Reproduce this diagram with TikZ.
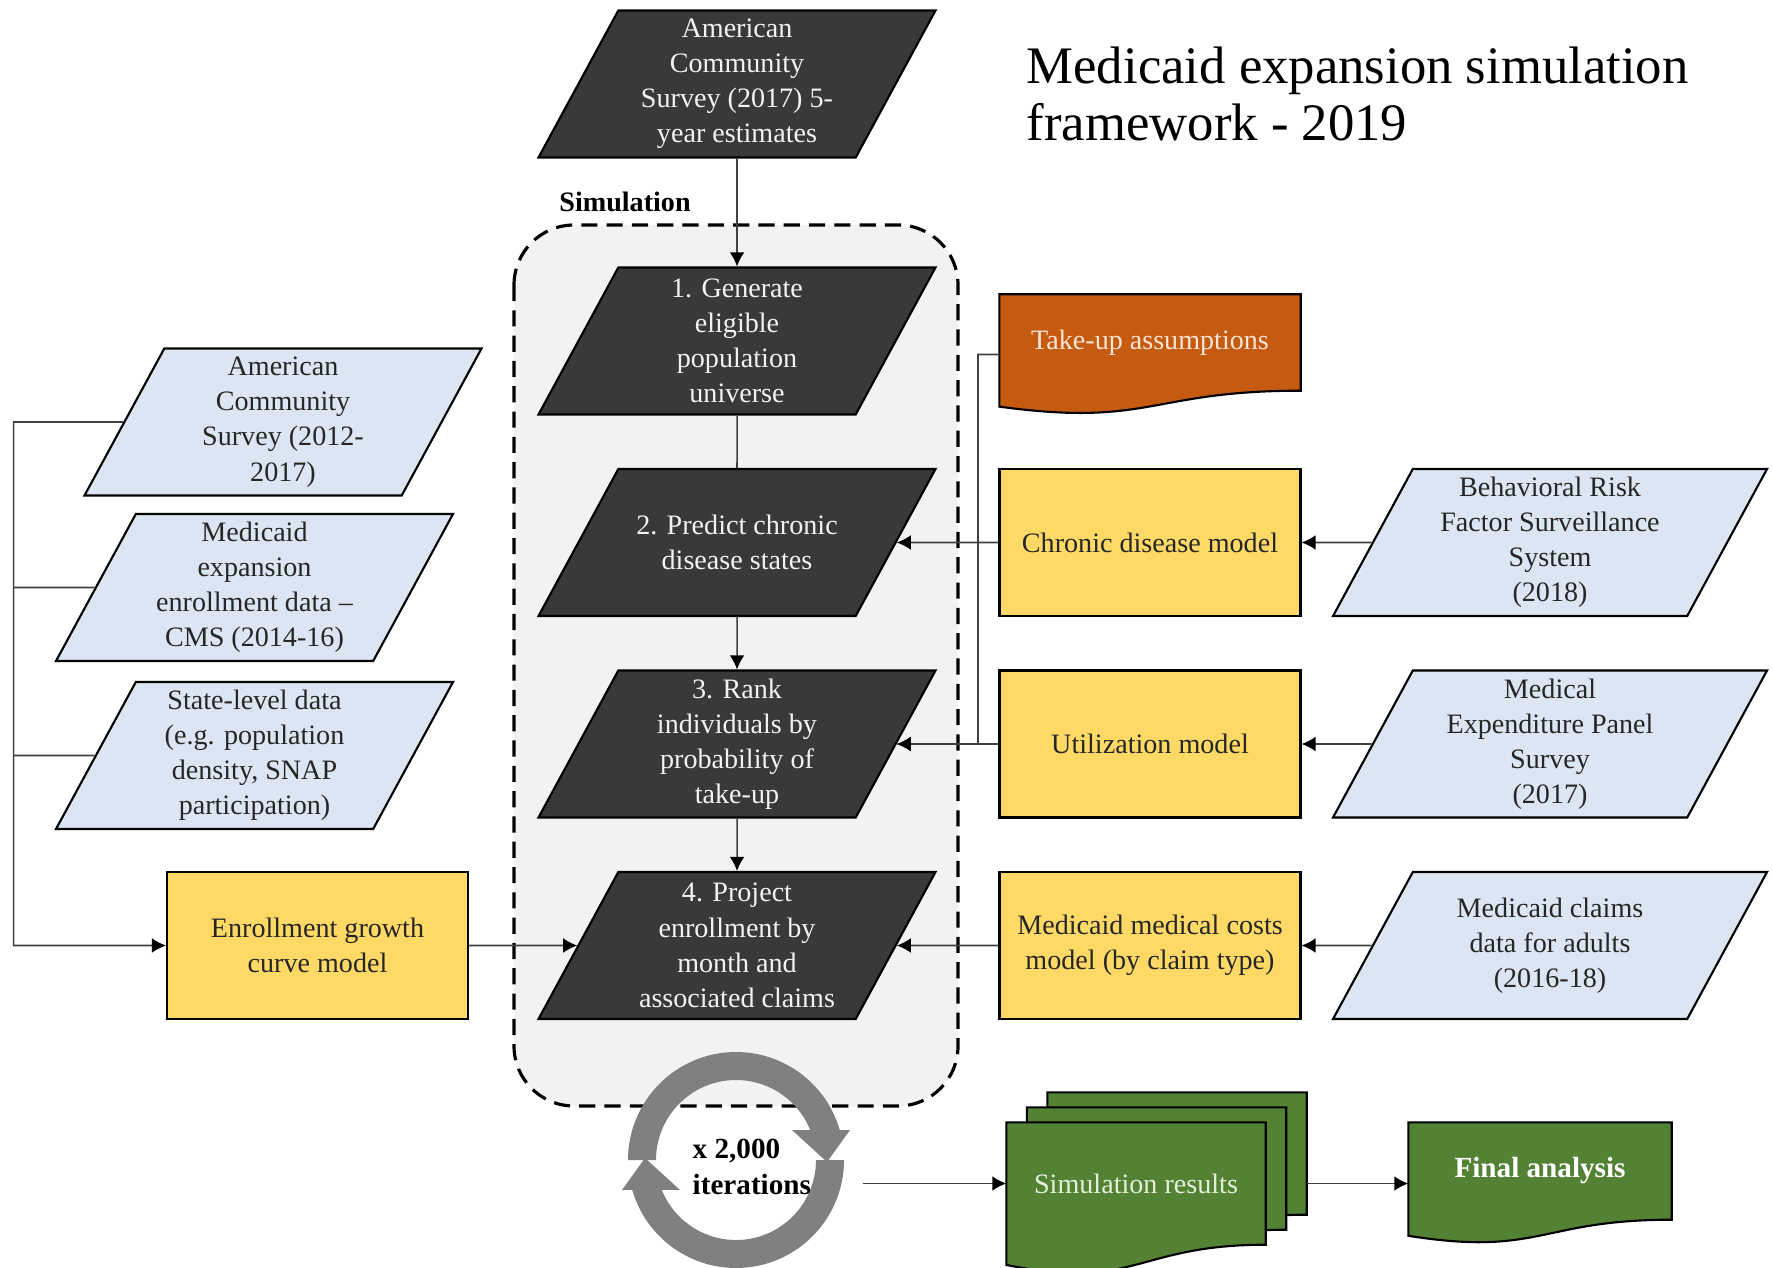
\documentclass[tikz,border=0pt]{standalone}
\usepackage{fontspec}
\setmainfont{Liberation Serif}
\usetikzlibrary{shapes.geometric,arrows.meta,calc,backgrounds}
\definecolor{grisfonce}{HTML}{3B3838}
\definecolor{blanccasse}{HTML}{F2F2F2}
\definecolor{bleuclair}{HTML}{DCE6F2}
\definecolor{jaune}{HTML}{FFD966}
\definecolor{orangefonce}{HTML}{C55A11}
\definecolor{creme}{HTML}{FBE5D6}
\definecolor{vert}{HTML}{548235}
\definecolor{vertpale}{HTML}{E2F0D9}
\definecolor{grisanneau}{HTML}{808080}
\definecolor{fondsimu}{HTML}{F2F2F2}
% feuillet a bord ondule, dessine sous le noeud #1
\def\Feuillet#1#2#3{%
  \draw[fill=#2,line width=0.6pt]
    ($(#1.north west)+#3$) -- ($(#1.north east)+#3$) -- ($(#1.south east)+#3$)
    .. controls ($(#1.south)+#3$) and ($(#1.north)!1.38!(#1.south)+#3$)
    .. ($(#1.north west)!1.165!(#1.south west)+#3$) -- cycle;}
\begin{document}
\begin{tikzpicture}
  \tikzstyle{fleche}=[->,>={Latex[length=4pt,width=4.2pt,color=black]},line width=0.45pt,draw=black!75]
  \tikzstyle{ligne}=[line width=0.45pt,draw=black!75]
  \tikzstyle{para}=[trapezium,trapezium left angle=61.5,trapezium right angle=118.5,trapezium stretches body,minimum width=3.97cm,minimum height=1.47cm,inner sep=0pt,draw=black,line width=0.6pt,font=\fontsize{8}{10}\selectfont,
    execute at begin node={\begin{minipage}[c][1.47cm][c]{2.35cm}\centering},
    execute at end node={\end{minipage}}]
  \tikzstyle{etape}=[para,fill=grisfonce,text=blanccasse]
  \tikzstyle{donnee}=[para,fill=bleuclair,text=black!85]
  \tikzstyle{modele}=[rectangle,minimum width=3.01cm,minimum height=1.47cm,align=center,draw=black,line width=0.6pt,fill=jaune,text=black!85,font=\fontsize{8}{10}\selectfont]
  \tikzstyle{feuille}=[rectangle,align=center,inner sep=0pt,font=\fontsize{8}{10}\selectfont]
  \tikzstyle{cadre}=[dash pattern=on 4.6pt off 2.6pt,line width=0.9pt,rounded corners=0.6cm,fill=fondsimu]
  \tikzstyle{etiquette}=[font=\fontsize{8}{10}\selectfont\bfseries]
  \tikzstyle{titre}=[anchor=west,align=left,inner sep=0pt,font=\fontsize{15}{16.2}\selectfont]
  \def\EcartLignes{2.015}
  \def\LigneA{-3.41-(0)*\EcartLignes}
  \def\LigneB{-3.41-(1)*\EcartLignes}
  \def\LigneC{-3.41-(2)*\EcartLignes}
  \def\LigneD{-3.41-(3)*\EcartLignes}
  \def\ColonneA{2.545}
  \def\ColonneB{3.175}
  \def\ColonneC{7.37}
  \def\ColonneD{11.5}
  \def\ColonneE{15.5}
  \useasboundingbox (0,0) rectangle (17.73,-12.68);
  % cadre de la simulation
  \draw[cadre] (5.14,-2.25) rectangle (9.58,-11.06);
  \node[etiquette] (simulation) at (6.25,-2.02) {Simulation};
  \node[titre] (titre) at (10.26,-0.94) {Medicaid expansion simulation\\framework - 2019};
  % etapes
  \node[etape] (acs) at ({\ColonneC},-0.84) {American\\Community\\Survey (2017) 5-\\year estimates};
  \node[etape] (etape1) at ({\ColonneC},{\LigneA}) {1. Generate\\eligible\\population\\universe};
  \node[etape] (etape2) at ({\ColonneC},{\LigneB}) {2. Predict chronic\\disease states};
  \node[etape] (etape3) at ({\ColonneC},{\LigneC}) {3. Rank\\individuals by\\probability of\\take-up};
  \node[etape] (etape4) at ({\ColonneC},{\LigneD}) {4. Project\\enrollment by\\month and\\associated claims};
  % donnees a gauche
  \node[donnee] (acs12) at (2.83,-4.22) {American\\Community\\Survey (2012-\\2017)};
  \node[donnee] (inscriptions) at ({\ColonneA},-5.875) {Medicaid\\expansion\\enrollment data --\\CMS (2014-16)};
  \node[donnee] (etat) at ({\ColonneA},-7.555) {State-level data\\(e.g. population\\density, SNAP\\participation)};
  % modeles
  \node[modele] (croissance) at ({\ColonneB},{\LigneD}) {Enrollment growth\\curve model};
  \node[modele] (chronique) at ({\ColonneD},{\LigneB}) {Chronic disease model};
  \node[modele] (utilisation) at ({\ColonneD},{\LigneC}) {Utilization model};
  \node[modele] (couts) at ({\ColonneD},{\LigneD}) {Medicaid medical costs\\model (by claim type)};
  % donnees a droite
  \node[donnee,minimum width=4.34cm] (brfss) at ({\ColonneE},{\LigneB}) {Behavioral Risk\\Factor Surveillance\\System\\(2018)};
  \node[donnee,minimum width=4.34cm] (meps) at ({\ColonneE},{\LigneC}) {Medical\\Expenditure Panel\\Survey\\(2017)};
  \node[donnee,minimum width=4.34cm] (reclamations) at ({\ColonneE},{\LigneD}) {Medicaid claims\\data for adults\\(2016-18)};
  % feuillets
  \node[feuille,minimum width=3.00cm,minimum height=0.95cm,text=creme] (hypotheses) at ({\ColonneD},-3.425) {Take-up assumptions};
  \node[feuille,minimum width=2.58cm,minimum height=1.21cm,text=vertpale] (resultats) at (11.36,-11.835) {Simulation results};
  \node[feuille,minimum width=2.62cm,minimum height=0.96cm,text=white,font=\fontsize{8.3}{10}\selectfont\bfseries] (final) at (15.40,-11.71) {Final analysis};
  \begin{pgfonlayer}{background}
    \Feuillet{hypotheses}{orangefonce}{(0,0)}
    \foreach \d in {2,1,0} {\Feuillet{resultats}{vert}{(0.205*\d,0.15*\d)}}
    \Feuillet{final}{vert}{(0,0)}
  \end{pgfonlayer}
  % boucle des iterations
  \node[circle,minimum size=2.52cm,inner sep=0pt] (boucle) at (7.36,-11.60) {};
  \begin{scope}[shift={(boucle.center)}]
    \foreach \rot in {0,180}
      \fill[grisanneau,rotate=\rot] (180:1.08) arc[start angle=180,end angle=16.1,radius=1.08]
        -- (1.14,0.30) -- (0.91,-0.02) -- (0.56,0.30) -- (22:0.8)
        arc[start angle=22,end angle=180,radius=0.8] -- cycle;
  \end{scope}
  \node[anchor=west,align=left,inner sep=0pt,font=\fontsize{8.3}{10}\selectfont\bfseries] (iterations) at (6.92,-11.67) {x 2,000\\iterations};
  \coordinate (bus) at (0.136,0);
  \coordinate (coude) at (9.78,0);
  % liaisons
  \draw[fleche] (acs) -- (etape1);
  \draw[ligne] (etape1) -- (etape2);
  \draw[fleche] (etape2) -- (etape3);
  \draw[fleche] (etape3) -- (etape4);
  \draw[fleche] (acs12) -- (acs12 -| bus) |- (croissance);
  \draw[ligne] (inscriptions) -- (inscriptions -| bus);
  \draw[ligne] (etat) -- (etat -| bus);
  \draw[fleche] (croissance) -- (etape4);
  \draw[fleche] ([yshift=-1.2mm]hypotheses.west) -| (coude |- etape3) -- (etape3);
  \draw[fleche] (chronique) -- (etape2);
  \draw[fleche] (utilisation) -- (etape3);
  \draw[fleche] (couts) -- (etape4);
  \draw[fleche] (brfss) -- (chronique);
  \draw[fleche] (meps) -- (utilisation);
  \draw[fleche] (reclamations) -- (couts);
  \draw[fleche] (boucle.east |- resultats) -- (resultats);
  \draw[fleche] ([xshift=4.1mm]resultats.east) -- (final.west |- resultats.east);
\end{tikzpicture}
\end{document}
